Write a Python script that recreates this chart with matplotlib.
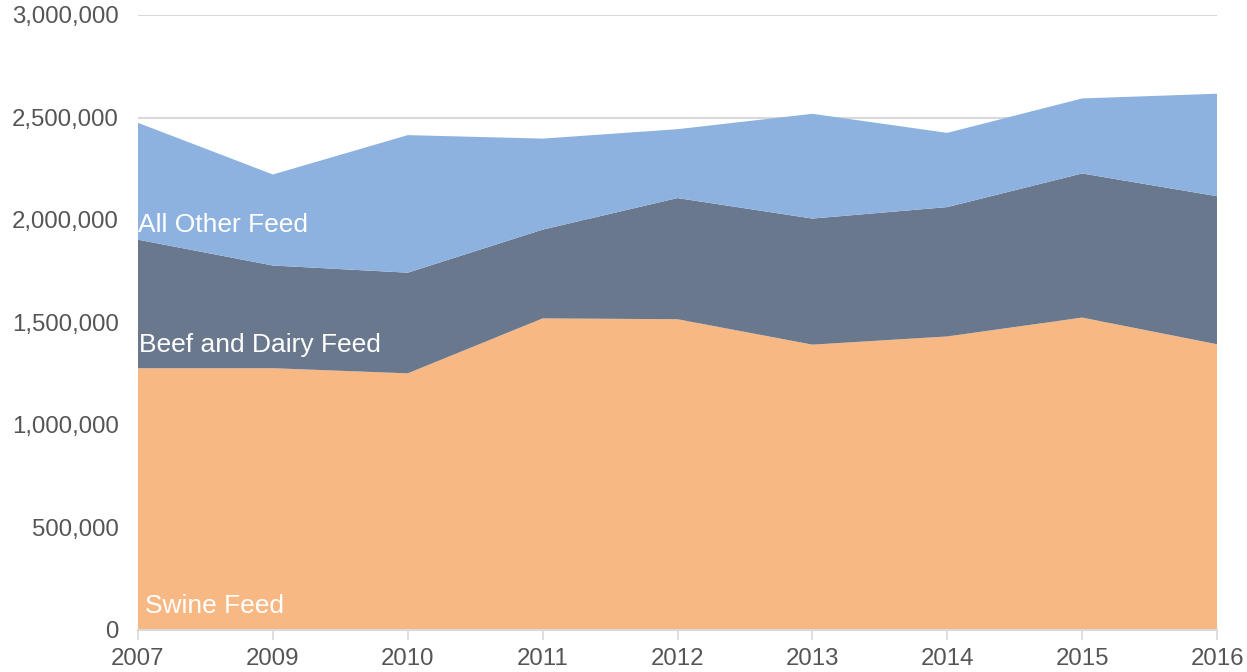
import matplotlib.pyplot as plt
from matplotlib.ticker import FuncFormatter

years = ['2007', '2009', '2010', '2011', '2012', '2013', '2014', '2015', '2016']
swine = [1277000, 1277000, 1252000, 1520000, 1516000, 1392000, 1432000, 1524000, 1394000]
beef_dairy = [627000, 501000, 491000, 433000, 591000, 615000, 631000, 703000, 722000]
all_other = [570000, 444000, 671000, 444000, 336000, 511000, 362000, 366000, 500000]

labels = ['Swine Feed', 'Beef and Dairy Feed', 'All Other Feed']
colors = ['#F8B884', '#6A788E', '#8DB2E0']

plt.rcParams['font.family'] = ['Liberation Sans', 'DejaVu Sans']

fig = plt.figure(figsize=(12.47, 6.72), dpi=100)
ax = fig.add_axes([138 / 1247, 42 / 672, 1079 / 1247, 615 / 672])

x = list(range(len(years)))
ax.stackplot(x, swine, beef_dairy, all_other, colors=colors, zorder=2, linewidth=0)

ax.set_xlim(0, len(years) - 1)
ax.set_ylim(0, 3000000)
ax.set_yticks(range(0, 3000001, 500000))
ax.yaxis.set_major_formatter(FuncFormatter(lambda v, p: '{:,.0f}'.format(v)))
ax.set_xticks(x)
ax.set_xticklabels(years)

ax.grid(axis='y', color='#d9d9d9', linewidth=1.5, zorder=0)
ax.set_axisbelow(True)
for s in ['top', 'right', 'left']:
    ax.spines[s].set_visible(False)
ax.spines['bottom'].set_color('#d9d9d9')
ax.spines['bottom'].set_linewidth(1.5)
ax.spines['bottom'].set_zorder(3)

ax.tick_params(axis='y', length=0, pad=14, labelsize=17.3, labelcolor='#555555')
ax.tick_params(axis='x', length=7, width=1.2, color='#d9d9d9', pad=6,
               labelsize=17.3, labelcolor='#555555')

# series labels inside the areas
ax.text(0.05, 58000, 'Swine Feed', color='white', fontsize=19, va='bottom', ha='left', zorder=4)
ax.text(0.01, 1388000, 'Beef and Dairy Feed', color='white', fontsize=19, va='center', ha='left', zorder=4)
ax.text(0.0, 1975000, 'All Other Feed', color='white', fontsize=19, va='center', ha='left', zorder=4)

plt.savefig('out.png', dpi=100)
